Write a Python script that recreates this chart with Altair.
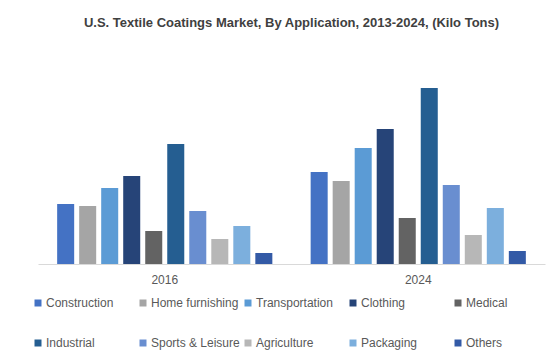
import altair as alt
import pandas as pd

years = ["2016", "2024"]
applications = ["Construction", "Home furnishing", "Transportation", "Clothing", "Medical",
                "Industrial", "Sports & Leisure", "Agriculture", "Packaging", "Others"]
values_2016 = [60, 58, 76, 88, 33, 120, 53, 25, 38, 11]
values_2024 = [92, 83, 116, 135, 46, 176, 79, 29, 56, 13]
colors = ["#4472C4", "#A5A5A5", "#5B9BD5", "#264478", "#636363",
          "#255E91", "#698ED0", "#B7B7B7", "#7CAFDD", "#335AA6"]

rows = []
for yr, vals in zip(years, [values_2016, values_2024]):
    for app, v in zip(applications, vals):
        rows.append({"year": yr, "application": app, "value": v})
df = pd.DataFrame(rows)

FONT = "Liberation Sans"

chart = alt.Chart(df).mark_bar().encode(
    x=alt.X("year:N", sort=years,
            scale=alt.Scale(paddingInner=0, paddingOuter=0),
            axis=alt.Axis(title=None, labelAngle=0, ticks=False, tickSize=0, labelPadding=10,
                          domainColor="#D9D9D9", domainWidth=1, labelColor="#595959",
                          labelFontSize=12, labelFont=FONT, grid=False)),
    xOffset=alt.XOffset("application:N", sort=applications,
                        scale=alt.Scale(paddingInner=0.227, paddingOuter=0.87)),
    y=alt.Y("value:Q", scale=alt.Scale(domain=[0, 204]), axis=None),
    color=alt.Color("application:N", sort=applications,
                    scale=alt.Scale(domain=applications, range=colors),
                    legend=alt.Legend(title=None, orient="none", legendX=-6, legendY=237,
                                      direction="horizontal",
                                      columns=5, symbolType="square", symbolSize=49,
                                      symbolStrokeWidth=0, labelFontSize=12, labelFont=FONT,
                                      labelColor="#595959", labelOffset=2, columnPadding=2,
                                      rowPadding=28, gridAlign="all", padding=0, labelLimit=0)),
).properties(
    width=507, height=204,
    title=alt.TitleParams("U.S. Textile Coatings Market, By Application, 2013-2024, (Kilo Tons)",
                          fontSize=13, font=FONT, fontWeight="bold", color="#404040",
                          anchor="middle", offset=30),
    padding={"left": 24, "top": 9, "right": 5, "bottom": 5},
).configure_view(stroke=None)

chart.save("out.html", embed_options={"renderer": "svg", "actions": False})
